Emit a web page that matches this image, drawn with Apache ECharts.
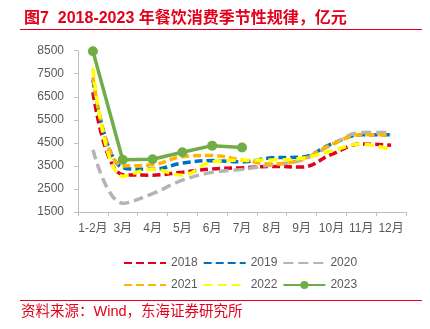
<!DOCTYPE html>
<html><head><meta charset="utf-8">
<script src="https://cdn.jsdelivr.net/npm/echarts@6/dist/echarts.min.js"></script>
<style>html,body{margin:0;padding:0;background:#fff}#c{width:430px;height:329px}</style>
</head><body><div id="c"></div>
<script>
var categories = ['1-2月','3月','4月','5月','6月','7月','8月','9月','10月','11月','12月'];
var yTicks = [1500, 8500, 1000];
var s2018 = [6700, 3120, 3100, 3230, 3370, 3420, 3480, 3450, 4000, 4450, 4400];
var s2019 = [7250, 3420, 3350, 3620, 3730, 3680, 3850, 3880, 4450, 4850, 4850];
var s2020 = [4200, 1880, 2300, 2880, 3220, 3350, 3550, 3750, 4400, 4950, 4950];
var s2021 = [7350, 3500, 3550, 3900, 3950, 3760, 3580, 3780, 4430, 4850, 4850];
var s2022 = [7750, 3050, 3350, 3100, 3680, 3750, 3760, 3830, 4150, 4450, 4200];
var s2023 = [8480, 3770, 3790, 4090, 4380, 4300];
var titleText = '图7  2018-2023 年餐饮消费季节性规律，亿元';
var sourceText = '资料来源：Wind，东海证券研究所';

var FONT = '"Liberation Sans", "Noto Sans CJK SC", sans-serif';
var RED = '#e2001a';
function dashSeries(name, data, color, dash) {
  return {
    name: name, type: 'line', data: data, smooth: 0.4, symbol: 'none',
    lineStyle: { color: color, width: 3.5, type: dash },
    itemStyle: { color: color }
  };
}
function noDot(name) {
  return { name: name, itemStyle: { color: 'rgba(0,0,0,0)', borderWidth: 0, opacity: 0 } };
}
var chart = echarts.init(document.getElementById('c'), null, { renderer: 'canvas' });
chart.setOption({
  animation: false,
  textStyle: { fontFamily: FONT },
  title: {
    text: titleText, left: 19, top: 6,
    textStyle: { color: RED, fontSize: 16, fontWeight: 'bold', fontFamily: FONT }
  },
  graphic: [
    { type: 'line', shape: { x1: 20, y1: 29.5, x2: 422, y2: 29.5 }, style: { stroke: RED, lineWidth: 1 } },
    { type: 'line', shape: { x1: 20, y1: 300.5, x2: 422, y2: 300.5 }, style: { stroke: RED, lineWidth: 1 } },
    { type: 'text', left: 21, top: 305, style: { text: sourceText, fill: RED, fontSize: 14.5, fontFamily: FONT } }
  ],
  legend: [
    { data: [noDot('2018'), noDot('2019'), noDot('2020')], left: 118, top: 252, itemWidth: 42, itemHeight: 10, itemGap: 5,
      textStyle: { color: '#595959', fontSize: 12, fontFamily: FONT } },
    { data: [noDot('2021'), noDot('2022'), '2023'], left: 118, top: 274, itemWidth: 42, itemHeight: 10, itemGap: 5,
      textStyle: { color: '#595959', fontSize: 12, fontFamily: FONT } }
  ],
  grid: { left: 78, right: 24, top: 50.7, bottom: 117, containLabel: false },
  xAxis: {
    type: 'category', data: categories, boundaryGap: true,
    axisLine: { lineStyle: { color: '#bfbfbf' } },
    axisTick: { show: true, length: 4, lineStyle: { color: '#bfbfbf' } },
    axisLabel: { color: '#595959', fontSize: 12, margin: 11, interval: 0, fontFamily: FONT }
  },
  yAxis: {
    type: 'value', min: yTicks[0], max: yTicks[1], interval: yTicks[2],
    axisLine: { show: true, lineStyle: { color: '#bfbfbf' } },
    axisTick: { show: true, length: 4, lineStyle: { color: '#bfbfbf' } },
    splitLine: { show: false },
    axisLabel: { color: '#595959', fontSize: 12, margin: 14, fontFamily: FONT,
      formatter: function (v) { return String(v); } }
  },
  series: [
    dashSeries('2018', s2018, '#e2001a', [8, 4]),
    dashSeries('2019', s2019, '#0070c0', [8, 4]),
    dashSeries('2020', s2020, '#b4b4b4', [10, 5]),
    dashSeries('2021', s2021, '#ffb400', [8, 4]),
    dashSeries('2022', s2022, '#ffff00', [9, 5]),
    {
      name: '2023', type: 'line', data: s2023, smooth: false, symbol: 'circle', symbolSize: 10,
      lineStyle: { color: '#70ad47', width: 3.5 }, itemStyle: { color: '#70ad47' }
    }
  ]
});
</script></body></html>
